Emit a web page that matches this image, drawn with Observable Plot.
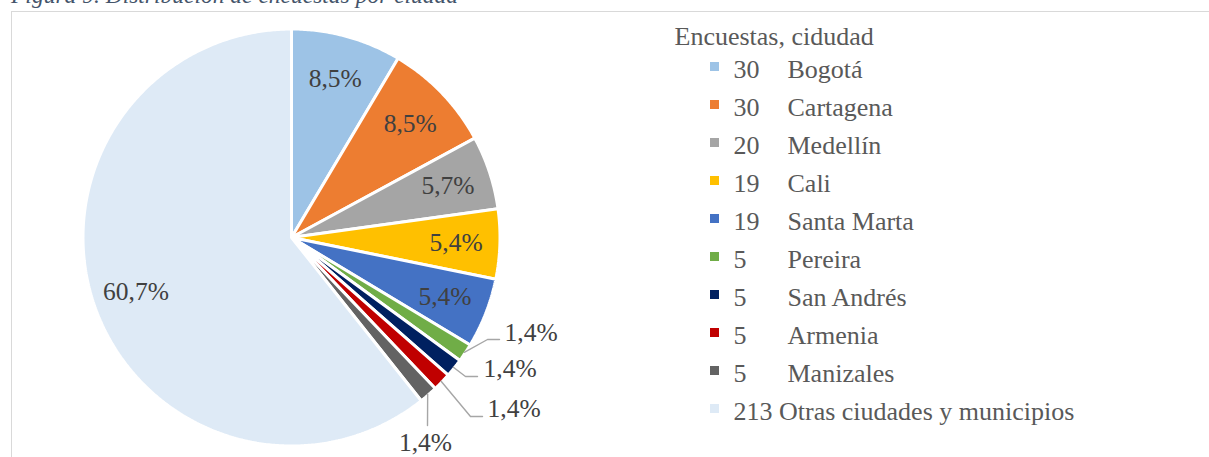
<!DOCTYPE html>
<html>
<head>
<meta charset="utf-8">
<script src="https://cdn.jsdelivr.net/npm/d3@7"></script>
<script src="https://cdn.jsdelivr.net/npm/@observablehq/plot@0.6"></script>
<style>
  html, body { margin: 0; padding: 0; background: #fff; overflow: hidden; }
  #wrap { position: relative; width: 1209px; height: 457px; overflow: hidden; font-family: "Liberation Serif", "Times New Roman", serif; }
  #title { position: absolute; left: 11px; top: -16px; font-style: italic; font-size: 23.5px; line-height: 1; color: #44546A; white-space: nowrap; }
  #frame { position: absolute; left: 11px; top: 11px; width: 1400px; height: 700px; border-left: 1.5px solid #d9d9d9; border-top: 1.5px solid #d9d9d9; }
  #pie { position: absolute; left: 0; top: 0; width: 660px; height: 457px; }
  #legend { position: absolute; left: 660px; top: 0; width: 549px; height: 457px; }
</style>
</head>
<body>
<div id="wrap">
  <div id="frame"></div>
  <div id="title">Figura 9. Distribución de encuestas por ciudad</div>
  <div id="pie"></div>
  <div id="legend"></div>
</div>
<script>
// ---- data ----
const cities = ["Bogotá", "Cartagena", "Medellín", "Cali", "Santa Marta", "Pereira", "San Andrés", "Armenia", "Manizales", "Otras ciudades y municipios"];
const counts = [30, 30, 20, 19, 19, 5, 5, 5, 5, 213];
const colors = ["#9DC3E6", "#ED7D31", "#A5A5A5", "#FFC000", "#4472C4", "#70AD47", "#002060", "#C00000", "#636363", "#DEEAF6"];
const legendTitle = "Encuestas, cidudad";

// ---- layout (pixels) ----
const W = 660, H = 457, CX = 291, CY = 237, R = 208.5;
const insideLabelRadius = 0.79;
// leader-line elbows/ends and label anchors for the small outside labels, px relative to centre
const outsideLayout = {
  "Pereira":    {path: [[196, 102], [208, 102]], label: [213, 103], anchor: "start", line: "bottom"},
  "San Andrés": {path: [[174, 139], [186, 139]], label: [192, 139], anchor: "start", line: "bottom"},
  "Armenia":    {path: [[179, 179], [191, 179]], label: [196, 179], anchor: "start", line: "bottom"},
  "Manizales":  {path: [[136, 188]],             label: [134, 195], anchor: "middle", line: "top"}
};

const total = d3.sum(counts);
const arcs = d3.pie().sort(null).value(d => d)(counts);
const fmt = v => (v * 100).toFixed(1).replace(".", ",") + "%";

// slice polygons
const slicePts = [];
arcs.forEach((p, i) => {
  const n = Math.max(2, Math.ceil((p.endAngle - p.startAngle) / (Math.PI / 360)));
  slicePts.push({city: cities[i], x: 0, y: 0});
  for (let k = 0; k <= n; k++) {
    const a = p.startAngle + (p.endAngle - p.startAngle) * k / n;
    slicePts.push({city: cities[i], x: Math.sin(a), y: Math.cos(a)});
  }
});

const labels = arcs.map((p, i) => {
  const m = (p.startAngle + p.endAngle) / 2;
  return {city: cities[i], mid: m, frac: counts[i] / total, text: fmt(counts[i] / total)};
});
const inside = labels.filter(d => d.frac >= 0.03).map(d => ({...d, x: insideLabelRadius * Math.sin(d.mid), y: insideLabelRadius * Math.cos(d.mid)}));
const outside = labels.filter(d => d.frac < 0.03);
const leaderPts = [];
const outsideText = [];
outside.forEach(d => {
  const L = outsideLayout[d.city];
  leaderPts.push({city: d.city, x: 0.995 * Math.sin(d.mid), y: 0.995 * Math.cos(d.mid)});
  L.path.forEach(([px, py]) => leaderPts.push({city: d.city, x: px / R, y: -py / R}));
  outsideText.push({...d, x: L.label[0] / R, y: -L.label[1] / R, anchor: L.anchor, line: L.line});
});

const colorScale = {domain: cities, range: colors, type: "ordinal"};

const pie = Plot.plot({
  width: W, height: H, margin: 0,
  style: {background: "transparent", fontFamily: "Liberation Serif, Times New Roman, serif", fontSize: "25.5px"},
  x: {domain: [-CX / R, (W - CX) / R], axis: null},
  y: {domain: [-(H - CY) / R, CY / R], axis: null},
  color: colorScale,
  marks: [
    Plot.line(slicePts, {x: "x", y: "y", z: "city", fill: "city", stroke: "white", strokeWidth: 3, curve: "linear-closed", strokeLinejoin: "miter"}),
    Plot.text(inside, {x: "x", y: "y", text: "text", fill: "#404040"}),
    Plot.line(leaderPts, {x: "x", y: "y", z: "city", stroke: "#A6A6A6", strokeWidth: 1.4}),
    Plot.text(outsideText.filter(d => d.line === "bottom"), {x: "x", y: "y", text: "text", fill: "#404040", textAnchor: "start", lineAnchor: "bottom"}),
    Plot.text(outsideText.filter(d => d.line === "top"), {x: "x", y: "y", text: "text", fill: "#404040", textAnchor: "middle", lineAnchor: "top"})
  ]
});
document.getElementById("pie").appendChild(pie);

// legend
const rows = cities.map((c, i) => ({city: c, count: counts[i], wide: String(counts[i]).length > 2}));
const legend = Plot.plot({
  width: 549, height: H, margin: 0,
  style: {background: "transparent", fontFamily: "Liberation Serif, Times New Roman, serif", fontSize: "26px"},
  y: {type: "point", domain: cities, range: [66, 408], padding: 0, axis: null},
  color: colorScale,
  marks: [
    Plot.text([legendTitle], {frameAnchor: "top-left", dx: 14, dy: 44, lineAnchor: "bottom", textAnchor: "start", fill: "#595959"}),
    Plot.dot(rows, {y: "city", fill: "city", symbol: "square", r: 5.1, frameAnchor: "left", dx: 54}),
    Plot.text(rows.filter(d => !d.wide), {y: "city", text: d => String(d.count), frameAnchor: "left", dx: 73, dy: 11, lineAnchor: "bottom", textAnchor: "start", fill: "#595959"}),
    Plot.text(rows.filter(d => !d.wide), {y: "city", text: "city", frameAnchor: "left", dx: 127, dy: 11, lineAnchor: "bottom", textAnchor: "start", fill: "#595959"}),
    Plot.text(rows.filter(d => d.wide), {y: "city", text: d => d.count + " " + d.city, frameAnchor: "left", dx: 73, dy: 11, lineAnchor: "bottom", textAnchor: "start", fill: "#595959"})
  ]
});
document.getElementById("legend").appendChild(legend);
</script>
</body>
</html>
